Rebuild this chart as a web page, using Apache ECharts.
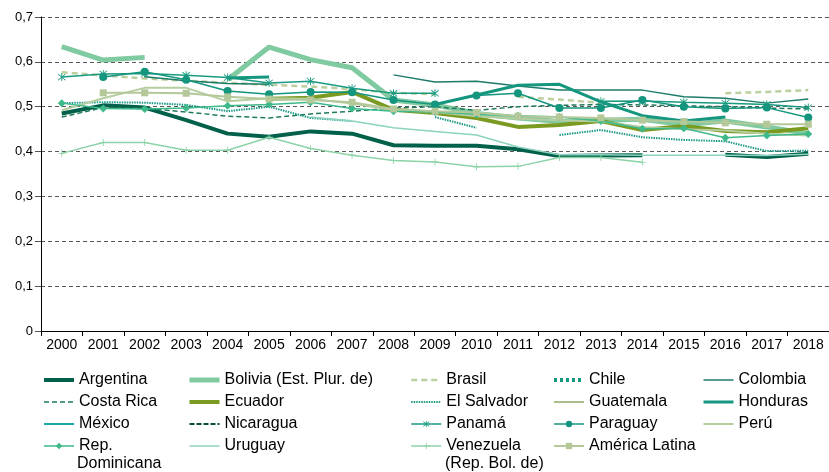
<!DOCTYPE html>
<html>
<head>
<meta charset="utf-8">
<script src="https://cdn.jsdelivr.net/npm/echarts@6/dist/echarts.min.js"></script>
<style>
  html, body { margin: 0; padding: 0; background: #fff; }
  #chart { width: 829px; height: 472px; }
</style>
</head>
<body>
<div id="chart"></div>
<script>
// Gini values (null = no survey / no line drawn)
const years = ["2000", "2001", "2002", "2003", "2004", "2005", "2006", "2007", "2008", "2009",
  "2010", "2011", "2012", "2013", "2014", "2015", "2016", "2017", "2018"];

const argentina = [0.485, 0.503, 0.498, 0.470, 0.440, 0.433, 0.445, 0.440, 0.414, 0.413, 0.413, 0.405, 0.390, 0.391, 0.392, null, 0.393, 0.388, 0.395];
const bolivia = [0.634, 0.604, 0.610, null, 0.560, 0.633, 0.605, 0.587, 0.515, 0.504, 0.485, 0.475, 0.467, 0.470, 0.472, 0.460, 0.468, 0.455, 0.440];
const brasil = [0.577, 0.570, 0.563, 0.558, 0.553, 0.549, 0.545, 0.539, 0.531, 0.528, null, 0.522, 0.516, 0.509, null, null, 0.530, 0.533, 0.537];
const chile = [0.560, null, null, 0.550, null, null, 0.520, null, null, 0.520, null, 0.510, null, 0.500, null, 0.480, null, 0.454, null];
const colombia = [null, null, 0.567, 0.558, 0.552, 0.550, null, null, 0.571, 0.555, 0.557, 0.546, 0.537, 0.537, 0.537, 0.522, 0.519, 0.508, 0.517];
const costaRica = [0.477, 0.498, 0.497, 0.488, 0.479, 0.475, 0.484, 0.490, 0.497, 0.500, 0.492, 0.500, 0.503, 0.505, 0.504, 0.502, 0.500, 0.497, 0.495];
const ecuador = [null, null, null, null, null, 0.518, 0.520, 0.533, 0.493, 0.486, 0.475, 0.455, 0.459, 0.468, 0.448, 0.457, 0.446, 0.443, 0.452];
const elSalvador = [0.508, 0.510, 0.509, 0.504, 0.490, 0.500, 0.475, 0.468, null, 0.477, 0.453, null, 0.437, 0.448, 0.432, 0.426, 0.423, 0.401, 0.402];
const guatemala = [0.542, null, 0.585, null, null, null, 0.558, null, null, null, null, null, null, null, 0.535, null, null, null, null];
const honduras = [null, null, null, null, 0.564, 0.566, null, null, null, 0.505, 0.526, 0.548, 0.550, 0.511, 0.480, 0.468, 0.477, null, null];
const mexico = [0.542, null, 0.514, null, 0.516, null, 0.506, null, 0.515, null, 0.485, null, 0.492, null, 0.491, null, 0.503, null, 0.475];
const nicaragua = [null, 0.579, null, null, null, 0.532, null, null, null, 0.478, null, null, null, null, 0.495, null, null, null, null];
const panama = [0.566, 0.573, 0.574, 0.570, 0.565, 0.553, 0.557, 0.541, 0.530, 0.530, null, null, null, 0.512, 0.513, 0.510, 0.508, 0.505, 0.498];
const paraguay = [null, 0.566, 0.578, 0.560, 0.535, 0.528, 0.533, 0.532, 0.515, 0.505, 0.525, 0.530, 0.497, 0.497, 0.515, 0.500, 0.496, 0.498, 0.476];
const peru = [0.492, 0.519, 0.542, 0.542, 0.512, 0.519, 0.518, 0.507, 0.492, 0.488, 0.479, 0.473, 0.470, 0.467, 0.455, 0.450, 0.447, 0.440, 0.436];
const repDominicana = [0.508, 0.496, 0.495, 0.497, 0.502, 0.505, 0.510, 0.496, 0.490, 0.488, 0.483, 0.480, 0.477, 0.468, 0.451, 0.452, 0.431, 0.436, 0.439];
const uruguay = [null, null, null, null, null, null, 0.477, 0.468, 0.453, 0.445, 0.437, 0.410, 0.393, 0.393, 0.392, 0.392, 0.392, 0.391, 0.394];
const venezuela = [0.396, 0.420, 0.420, 0.403, 0.403, 0.432, 0.407, 0.392, 0.380, 0.377, 0.366, 0.367, 0.387, 0.387, 0.376, null, null, null, null];
const americaLatina = [null, 0.531, 0.531, 0.530, 0.522, 0.517, 0.515, 0.510, 0.495, 0.490, 0.487, 0.479, 0.477, 0.475, 0.470, 0.467, 0.464, 0.461, 0.461];

const yTicks = [0, 0.1, 0.2, 0.3, 0.4, 0.5, 0.6, 0.7];

// legend columns as laid out in the reference
const legendCols = [
  ["Argentina", "Costa Rica", "México", "Rep. Dominicana"],
  ["Bolivia (Est. Plur. de)", "Ecuador", "Nicaragua", "Uruguay"],
  ["Brasil", "El Salvador", "Panamá", "Venezuela (Rep. Bol. de)"],
  ["Chile", "Guatemala", "Paraguay", "América Latina"],
  ["Colombia", "Honduras", "Perú"],
];
const legendLeft = [42, 187, 410, 552, 702];
const withMarker = ["Panamá", "Paraguay", "Rep. Dominicana", "Venezuela (Rep. Bol. de)", "América Latina"];

const FONT = "'Liberation Sans', Arial, sans-serif";
const ASTERISK = "path://M4.5,0L5.5,0L5.5,10L4.5,10Z M0.7,1.4L1.4,0.7L9.3,8.6L8.6,9.3Z M8.6,0.7L9.3,1.4L1.4,9.3L0.7,8.6Z";
const PLUS = "path://M4.4,0L5.6,0L5.6,10L4.4,10Z M0,4.4L10,4.4L10,5.6L0,5.6Z";

function line(name, data, color, width, type, symbol, symbolSize) {
  return {
    name: name,
    type: "line",
    data: data,
    color: color,
    symbol: symbol || "none",
    symbolSize: symbolSize || 0,
    showSymbol: !!symbol,
    connectNulls: false,
    lineStyle: { color: color, width: width, type: type || "solid", cap: "butt" },
    itemStyle: { color: color },
    emphasis: { disabled: true },
  };
}

const series = [
  line("Argentina", argentina, "#00604a", 4),
  line("Bolivia (Est. Plur. de)", bolivia, "#80caa2", 5),
  line("Brasil", brasil, "#bccf9e", 2.5, [6, 4]),
  line("Chile", chile, "#17977e", 4, [3, 3]),
  line("Colombia", colombia, "#1d7b6a", 1.5),
  line("Costa Rica", costaRica, "#1f7a5c", 1.5, [5, 3]),
  line("Ecuador", ecuador, "#7a9a22", 4),
  line("El Salvador", elSalvador, "#1e9a88", 2, [1.5, 1]),
  line("Guatemala", guatemala, "#a9c08a", 2),
  line("Honduras", honduras, "#14977e", 3),
  line("México", mexico, "#19a9a9", 2),
  line("Nicaragua", nicaragua, "#0b4d38", 2, [5, 2]),
  line("Panamá", panama, "#1a9a80", 1.5, "solid", ASTERISK, 8),
  line("Paraguay", paraguay, "#14967e", 1.5, "solid", "circle", 8),
  line("Perú", peru, "#b6cda0", 2),
  line("Rep. Dominicana", repDominicana, "#3db98a", 1.5, "solid", "diamond", 8),
  line("Uruguay", uruguay, "#8dd3bf", 1.5),
  line("Venezuela (Rep. Bol. de)", venezuela, "#8cd3a8", 1.5, "solid", PLUS, 7),
  line("América Latina", americaLatina, "#b4c89a", 2, "solid", "rect", 7),
];

// legend icons keep each series' own line width and dash
function legendItem(n) {
  const s = series.find((x) => x.name === n);
  const item = { name: n, lineStyle: { width: s.lineStyle.width, type: s.lineStyle.type, color: s.lineStyle.color } };
  if (!withMarker.includes(n)) item.itemStyle = { opacity: 0 };
  return item;
}

const legends = legendCols.map((names, i) => ({
  orient: "vertical",
  left: legendLeft[i],
  top: 372,
  padding: 0,
  itemWidth: 30,
  itemHeight: 8,
  itemGap: 6,
  selectedMode: false,
  data: names.map(legendItem),
  formatter: (n) => (n === "Rep. Dominicana" ? "Rep." : n === "Venezuela (Rep. Bol. de)" ? "Venezuela" : n),
  textStyle: { fontFamily: FONT, fontSize: 16, color: "#000", lineHeight: 16 },
}));

const chart = echarts.init(document.getElementById("chart"), null, { renderer: "canvas" });

chart.setOption({
  animation: false,
  backgroundColor: "#fff",
  grid: { left: 41, top: 17, width: 790, bottom: 141, containLabel: false },
  legend: legends,
  graphic: [
    { type: "text", left: 77, top: 456, style: { text: "Dominicana", font: "16px " + FONT, fill: "#000" } },
    { type: "text", left: 445, top: 456, style: { text: "(Rep. Bol. de)", font: "16px " + FONT, fill: "#000" } },
  ],
  xAxis: {
    type: "category",
    data: years,
    boundaryGap: true,
    axisLine: { lineStyle: { color: "#000", width: 1 } },
    axisTick: { show: true, length: 5, lineStyle: { color: "#000" } },
    axisLabel: { interval: 0, fontFamily: FONT, fontSize: 14, color: "#000", margin: 7 },
    splitLine: { show: false },
  },
  yAxis: {
    type: "value",
    min: yTicks[0],
    max: yTicks[yTicks.length - 1],
    interval: 0.1,
    axisLine: { show: true, lineStyle: { color: "#000", width: 1 } },
    axisTick: { show: true, length: 6, lineStyle: { color: "#555" } },
    axisLabel: {
      fontFamily: FONT,
      fontSize: 13,
      color: "#000",
      margin: 8,
      formatter: (v) => (v === 0 ? "0" : v.toFixed(1).replace(".", ",")),
    },
    splitLine: { show: true, lineStyle: { color: "#5a5a5a", width: 1, type: [4, 3] } },
  },
  tooltip: { show: false },
  series: series,
});
</script>
</body>
</html>
